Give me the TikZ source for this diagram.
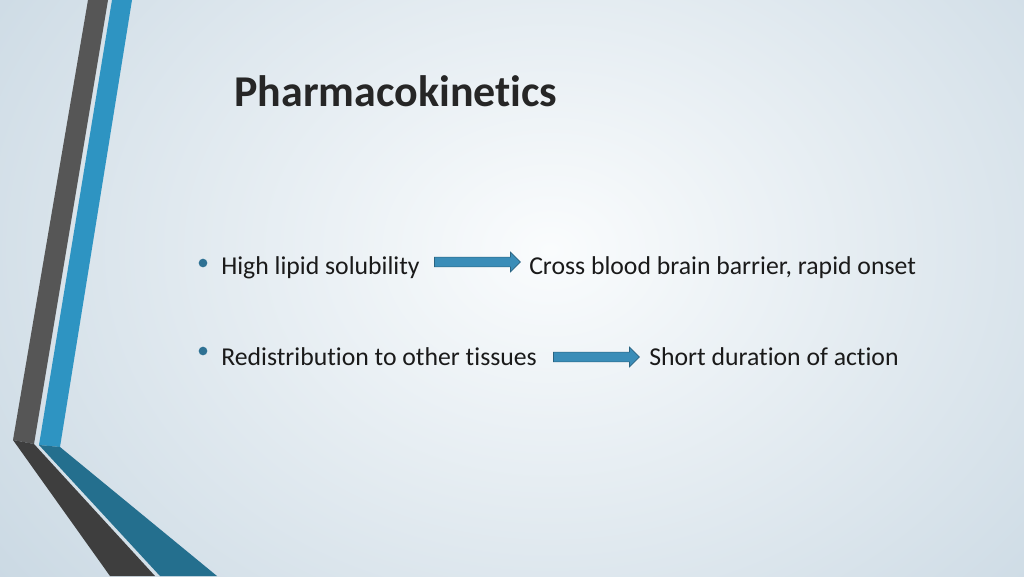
\documentclass[tikz,border=0pt]{standalone}
\usepackage{fontspec}
\setmainfont[Ligatures={NoCommon}]{Carlito}
\usetikzlibrary{shapes.arrows}
\definecolor{bgout}{HTML}{B9CCDA}
\definecolor{bgin}{HTML}{FAFCFD}
\definecolor{gband}{HTML}{565656}
\definecolor{dband}{HTML}{3E3E3E}
\definecolor{bband}{HTML}{2E94C2}
\definecolor{tband}{HTML}{246F8E}
\definecolor{arr}{HTML}{3A8DB8}
\definecolor{txt}{HTML}{1A1A1A}
\tikzset{
 blockarrow/.style={single arrow, draw=arr!70!black, fill=arr, minimum height=86*0.75pt, inner xsep=0pt, inner ysep=3.4pt, single arrow head extend=3.8pt, single arrow tip angle=90, line width=0.5pt},
 body/.style={font=\fontsize{19.3}{22}\selectfont, text=txt, anchor=west, inner sep=0pt},
 bul/.style={circle, fill=arr!80!black, inner sep=0pt, minimum size=6.5pt}
}
\begin{document}
\begin{tikzpicture}[x=0.75pt,y=-0.75pt]
\useasboundingbox (0,0) rectangle (1024,576);
\shade[outer color=bgout, inner color=bgin] (-400,-500) rectangle (1500,1000);
% bands
\fill[gband] (88,0) -- (108,0) -- (34,444) -- (13,440) -- cycle;
\fill[dband] (13,440) -- (34,444) -- (155,576) -- (110,576) -- cycle;
\fill[bband] (112,0) -- (132,0) -- (60,447) -- (39,445) -- cycle;
\fill[tband] (39,445) -- (60,447) -- (217,576) -- (160,576) -- cycle;
% title
\node[anchor=west, inner sep=0pt, font=\fontsize{33}{36}\selectfont\bfseries, text=black!85] (title) at (234,91) {Pharmacokinetics};
% bullets
\node[bul] (b1) at (203,263) {};
\node[bul] (b2) at (203,351) {};
\node[body] (t1) at (221,268) {High lipid solubility};
\node[body] (r1) at (529,268) {Cross blood brain barrier, rapid onset};
\node[body] (t2) at (221,357) {Redistribution to other tissues};
\node[body] (r2) at (649,357) {Short duration of action};
\node[blockarrow] (a1) at (475,262) {};
\node[blockarrow] (a2) at (594,357) {};
\end{tikzpicture}
\end{document}
